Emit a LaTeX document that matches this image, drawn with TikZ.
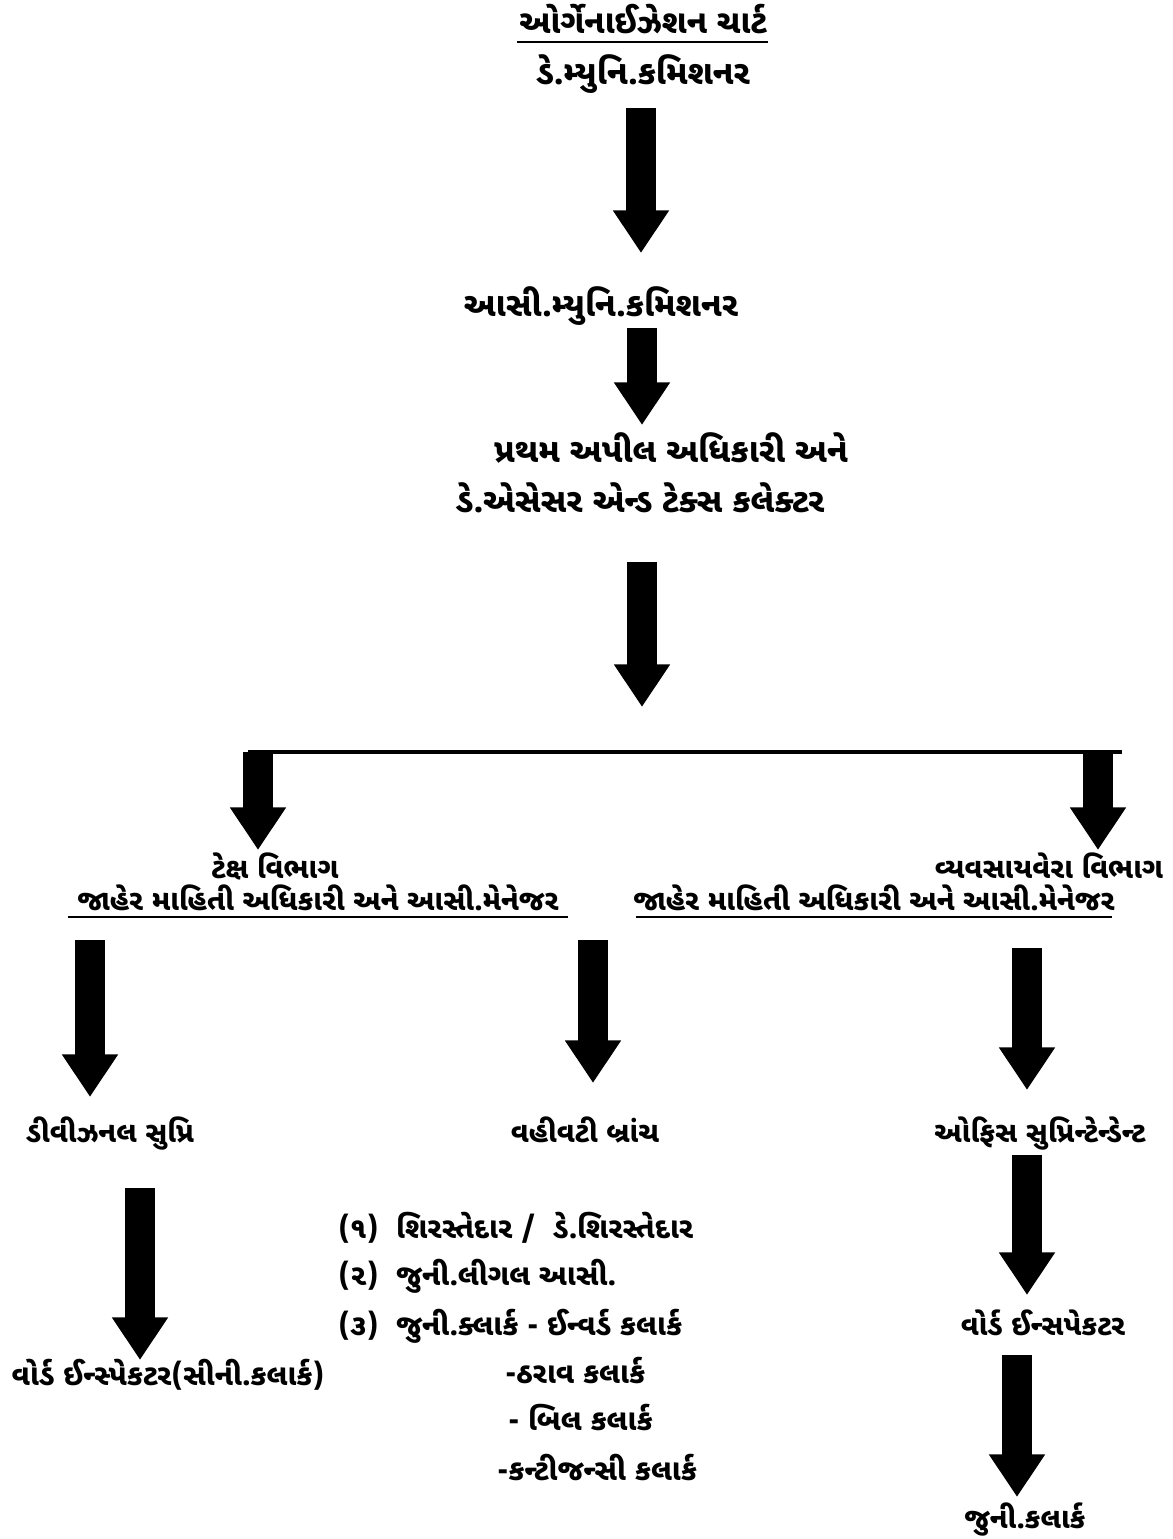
\documentclass[tikz,border=0pt]{standalone}
\usepackage{fontspec}
\setmainfont{Noto Sans Gujarati UI}[Script=Gujarati]
\usetikzlibrary{arrows.meta}
\begin{document}
\begin{tikzpicture}[x=0.75pt,y=-0.75pt,
  lbl/.style={inner sep=0pt, anchor=base, font=\fontsize{21.5}{26}\selectfont\bfseries},
  big/.style={lbl, font=\fontsize{25}{30}\selectfont\bfseries},
  lst/.style={lbl, anchor=base west, font=\fontsize{22}{26}\selectfont\bfseries},
  blk/.style={line width=22pt, -{Triangle[width=40pt,length=32pt]}},
  rulel/.style={line width=2.4pt},
  uline/.style={line width=1.8pt}]
\useasboundingbox (0,0) rectangle (1173,1539);
% texts
\node[big, font=\fontsize{24.5}{30}\selectfont\bfseries] (title) at (643,33) {ઓર્ગેનાઈઝેશન ચાર્ટ};
\node[big] (dmc) at (643,84) {ડે.મ્યુનિ.કમિશનર};
\node[big] (amc) at (601,316) {આસી.મ્યુનિ.કમિશનર};
\node[big] (fa1) at (671,462) {પ્રથમ અપીલ અધિકારી અને};
\node[big] (fa2) at (640,512) {ડે.એસેસર એન્ડ ટેક્સ કલેક્ટર};
\node[lbl] (tax) at (275,878) {ટેક્ષ વિભાગ};
\node[lbl] (vyv) at (1049,878) {વ્યવસાયવેરા વિભાગ};
\node[lbl] (pioL) at (318,910) {જાહેર માહિતી અધિકારી અને આસી.મેનેજર};
\node[lbl] (pioR) at (874,910) {જાહેર માહિતી અધિકારી અને આસી.મેનેજર};
\node[lbl] (div) at (110,1142) {ડીવીઝનલ સુપ્રિ};
\node[lbl] (vah) at (585,1142) {વહીવટી બ્રાંચ};
\node[lbl] (ofs) at (1040,1142) {ઓફિસ સુપ્રિન્ટેન્ડેન્ટ};
\node[lbl, font=\fontsize{22}{26}\selectfont\bfseries] (wiL) at (168,1385) {વોર્ડ ઈન્સ્પેકટર(સીની.કલાર્ક)};
\node[lbl] (wiR) at (1043,1335) {વોર્ડ ઈન્સપેકટર};
\node[lbl] (jc) at (1025,1528) {જુની.કલાર્ક};
\node[lst] (l1) at (338,1238) {(૧)\ \ શિરસ્તેદાર /\ \ ડે.શિરસ્તેદાર};
\node[lst] (l2) at (338,1285) {(૨)\ \ જુની.લીગલ આસી.};
\node[lst] (l3) at (338,1335) {(૩)\ \ જુની.ક્લાર્ક - ઈન્વર્ડ કલાર્ક};
\node[lst] (l4) at (505,1383) {-ઠરાવ કલાર્ક};
\node[lst] (l5) at (508,1430) {- બિલ કલાર્ક};
\node[lst] (l6) at (497,1480) {-કન્ટીજન્સી કલાર્ક};
% underlines
\coordinate (tu1) at (517,42); \coordinate (tu2) at (768,42);
\draw[uline] (tu1) -- (tu2);
\coordinate (pl1) at (68,917); \coordinate (pl2) at (568,917);
\draw[uline] (pl1) -- (pl2);
\coordinate (pr1) at (636,917); \coordinate (pr2) at (1112,917);
\draw[uline] (pr1) -- (pr2);
% arrow coordinates
\coordinate (a1s) at (641,108); \coordinate (a1e) at (641,253);
\coordinate (a2s) at (642,328); \coordinate (a2e) at (642,425);
\coordinate (a3s) at (642,562); \coordinate (a3e) at (642,707);
\coordinate (hl) at (248,752); \coordinate (hr) at (1122,752);
\coordinate (aLs) at (258,752); \coordinate (aLe) at (258,850);
\coordinate (aRs) at (1098,752); \coordinate (aRe) at (1098,850);
\coordinate (b1s) at (90,940); \coordinate (b1e) at (90,1097);
\coordinate (b2s) at (593,940); \coordinate (b2e) at (593,1083);
\coordinate (b3s) at (1027,948); \coordinate (b3e) at (1027,1090);
\coordinate (c1s) at (140,1188); \coordinate (c1e) at (140,1360);
\coordinate (c3s) at (1027,1155); \coordinate (c3e) at (1027,1295);
\coordinate (d3s) at (1017,1355); \coordinate (d3e) at (1017,1497);
\draw[blk] (a1s) -- (a1e);
\draw[blk] (a2s) -- (a2e);
\draw[blk] (a3s) -- (a3e);
\draw[rulel] (hl) -- (hr);
\draw[blk] (aLs) -- (aLe);
\draw[blk] (aRs) -- (aRe);
\draw[blk] (b1s) -- (b1e);
\draw[blk] (b2s) -- (b2e);
\draw[blk] (b3s) -- (b3e);
\draw[blk] (c1s) -- (c1e);
\draw[blk] (c3s) -- (c3e);
\draw[blk] (d3s) -- (d3e);
\end{tikzpicture}
\end{document}
